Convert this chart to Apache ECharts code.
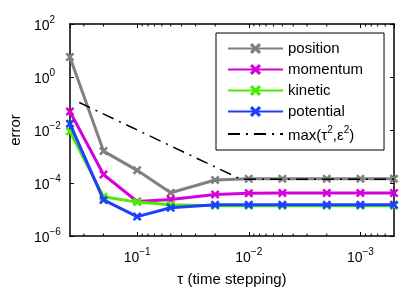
<!DOCTYPE html>
<html><head><meta charset="utf-8">
<script src="https://cdn.jsdelivr.net/npm/echarts@6/dist/echarts.min.js"></script>
<style>html,body{margin:0;padding:0;background:#fff}#c{width:409px;height:292px}</style>
</head><body><div id="c"></div>
<script>
// ---- data ----
const tau = [0.4, 0.2, 0.1, 0.05, 0.02, 0.01, 0.005, 0.002, 0.001, 0.0005];
const position  = [5.7, 1.6e-3, 3.0e-4, 4.3e-5, 1.3e-4, 1.45e-4, 1.45e-4, 1.45e-4, 1.45e-4, 1.45e-4];
const momentum  = [0.05, 2.1e-4, 2.0e-5, 2.4e-5, 3.7e-5, 4.1e-5, 4.2e-5, 4.2e-5, 4.2e-5, 4.2e-5];
const kinetic   = [8.9e-3, 3.0e-5, 1.9e-5, 1.5e-5, 1.4e-5, 1.4e-5, 1.4e-5, 1.4e-5, 1.4e-5, 1.4e-5];
const potential = [1.74e-2, 2.3e-5, 5.4e-6, 1.17e-5, 1.5e-5, 1.5e-5, 1.5e-5, 1.5e-5, 1.5e-5, 1.5e-5];
const refTau = [0.33, 0.0118, 0.0005];
const refVal = [0.109, 1.4e-4, 1.4e-4];
const seriesNames = ['position', 'momentum', 'kinetic', 'potential', 'max(τ²,ε²)'];
const xMinorTicks = [0.0006, 0.0007, 0.0008, 0.0009, 0.002, 0.003, 0.004, 0.005, 0.006, 0.007, 0.008, 0.009,
                     0.02, 0.03, 0.04, 0.05, 0.06, 0.07, 0.08, 0.09, 0.2, 0.3];

const FONT = 'Liberation Sans, Arial, Helvetica, sans-serif';
const colors = ['#808080', '#d800d8', '#44f000', '#1f3fff', '#000000'];
const XSYM = 'path://M2,0 L5,3 L8,0 L10,2 L7,5 L10,8 L8,10 L5,7 L2,10 L0,8 L3,5 L0,2 Z';

function supLabel(v) {
  const e = Math.round(Math.log10(v));
  return '{b|10}{s|' + (e < 0 ? '\u2212' + (-e) : e) + '}';
}
const rich = {
  b: { fontSize: 14, fontFamily: FONT, color: '#000', verticalAlign: 'bottom' },
  s: { fontSize: 10, fontFamily: FONT, color: '#000', verticalAlign: 'bottom', padding: [0, 0, 8, 0] }
};

const chart = echarts.init(document.getElementById('c'), null, { renderer: 'canvas' });

const axisCommon = {
  type: 'log',
  splitLine: { show: false },
  axisLine: { show: true, lineStyle: { color: '#000', width: 1.5 } },
  axisTick: { show: true, inside: true, length: 4, lineStyle: { color: '#000', width: 1 } },
  minorTick: { show: false },
  minorSplitLine: { show: false }
};

function lineSeries(i, data) {
  return {
    type: 'line', name: seriesNames[i],
    data: tau.map((t, k) => [t, data[k]]),
    xAxisIndex: 0, yAxisIndex: 0,
    symbol: XSYM, symbolSize: 9, showSymbol: true,
    itemStyle: { color: colors[i] },
    lineStyle: { color: colors[i], width: 3 },
    animation: false, z: 3 + i
  };
}

const option = {
  backgroundColor: '#fff',
  animation: false,
  grid: { left: 68, right: 15, top: 24, bottom: 55, containLabel: false },
  xAxis: [
    Object.assign({}, axisCommon, {
      position: 'bottom', min: 0.0005, max: 0.4, inverse: true,
      name: 'τ (time stepping)', nameLocation: 'middle', nameGap: 36,
      nameTextStyle: { fontSize: 15, fontFamily: FONT, color: '#000' },
      axisLabel: { show: true, margin: 11, showMinLabel: false, showMaxLabel: false,
        formatter: supLabel, rich: rich }
    }),
    Object.assign({}, axisCommon, {
      position: 'top', min: 0.0005, max: 0.4, inverse: true,
      axisLabel: { show: false }
    })
  ],
  yAxis: [
    Object.assign({}, axisCommon, {
      position: 'left', min: 1e-6, max: 1e2, interval: 2,
      name: 'error', nameLocation: 'middle', nameGap: 45,
      nameTextStyle: { fontSize: 15, fontFamily: FONT, color: '#000' },
      axisLabel: { show: true, margin: 36, align: 'left', formatter: supLabel, rich: rich }
    }),
    Object.assign({}, axisCommon, {
      position: 'right', min: 1e-6, max: 1e2, interval: 2,
      axisLabel: { show: false }
    })
  ],
  legend: {
    orient: 'vertical', left: 216, top: 33,
    data: seriesNames.map((n, i) => i === 4 ? { name: n, itemStyle: { opacity: 0 } } : { name: n }),
    backgroundColor: '#fff', borderColor: '#000', borderWidth: 1, borderRadius: 0,
    padding: [8, 21, 7, 11],
    itemWidth: 55, itemHeight: 14, itemGap: 6,
    textStyle: { fontSize: 15, fontFamily: FONT, color: '#000',
      rich: {
        n: { fontSize: 15, fontFamily: FONT, color: '#000', verticalAlign: 'bottom' },
        sup: { fontSize: 10, fontFamily: FONT, color: '#000', verticalAlign: 'bottom', padding: [0, 0, 8, 0] }
      } },
    formatter: function (name) {
      if (name === seriesNames[4]) return '{n|max(τ}{sup|2}{n|,ε}{sup|2}{n|)}';
      return name;
    }
  },
  series: [
    lineSeries(0, position),
    lineSeries(1, momentum),
    lineSeries(2, kinetic),
    lineSeries(3, potential),
    {
      type: 'line', name: seriesNames[4],
      data: refTau.map((t, k) => [t, refVal[k]]),
      xAxisIndex: 0, yAxisIndex: 0,
      symbol: 'none', showSymbol: false,
      itemStyle: { color: '#000' },
      lineStyle: { color: '#000', width: 1.5, type: [12, 6, 2, 6] },
      z: 10
    },
    {
      type: 'custom', silent: true, xAxisIndex: 0, yAxisIndex: 0, clip: false, z: 20,
      data: xMinorTicks.map(v => [v, 1]),
      renderItem: function (params, api) {
        const x = api.coord([api.value(0), 1])[0];
        const cs = params.coordSys;
        if (x < cs.x - 0.5 || x > cs.x + cs.width + 0.5) return null;
        return { type: 'group', children: [
          { type: 'line', shape: { x1: x, y1: cs.y + cs.height, x2: x, y2: cs.y + cs.height - 2.5 }, style: { stroke: '#000', lineWidth: 1 } },
          { type: 'line', shape: { x1: x, y1: cs.y, x2: x, y2: cs.y + 2.5 }, style: { stroke: '#000', lineWidth: 1 } }
        ] };
      }
    }
  ]
};
chart.setOption(option);
</script>
</body></html>
